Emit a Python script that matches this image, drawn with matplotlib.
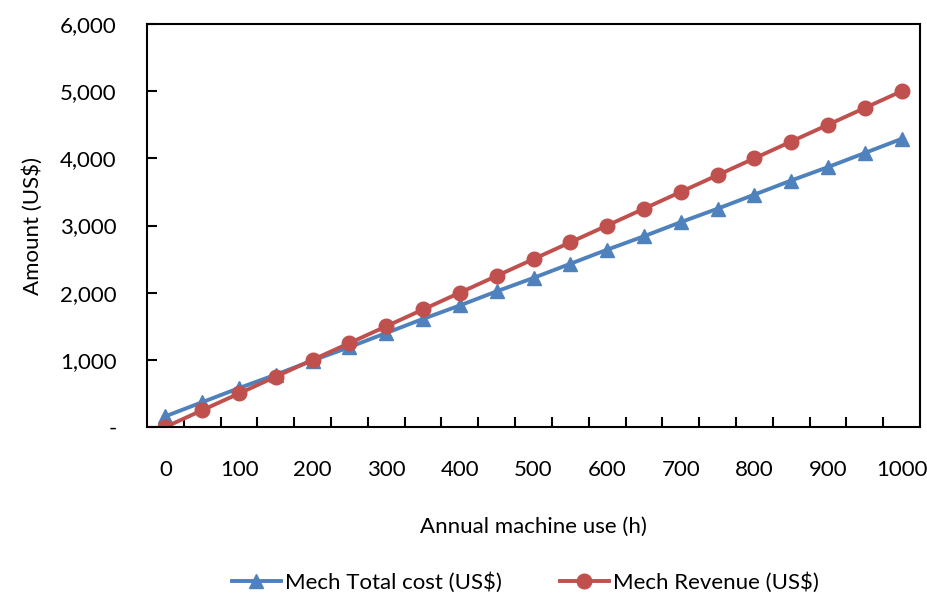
import matplotlib
matplotlib.use("Agg")
import matplotlib.pyplot as plt
from matplotlib.ticker import FuncFormatter

plt.rcParams['font.family'] = ['Lato', 'DejaVu Sans']

# Annual machine use (h), one category every 50 h
hours = [0, 50, 100, 150, 200, 250, 300, 350, 400, 450, 500,
         550, 600, 650, 700, 750, 800, 850, 900, 950, 1000]
total_cost = [160, 370, 580, 780, 990, 1190, 1400, 1610, 1810, 2020, 2220,
              2430, 2640, 2840, 3050, 3250, 3460, 3670, 3870, 4080, 4290]
revenue = [0, 250, 500, 750, 1000, 1250, 1500, 1750, 2000, 2250, 2500,
           2750, 3000, 3250, 3500, 3750, 4000, 4250, 4500, 4750, 5000]

fig = plt.figure(figsize=(9.28, 5.94), dpi=100)
ax = fig.add_axes([0.1584, 0.2811, 0.8330, 0.6785])

pos = list(range(len(hours)))
ax.plot(pos, total_cost, color='#4F81BD', lw=2.8, marker='^', ms=10.5,
        label='Mech Total cost (US$)')
ax.plot(pos, revenue, color='#C0504D', lw=2.8, marker='o', ms=10.5,
        label='Mech Revenue (US$)')

ax.set_xlim(-0.5, len(hours) - 0.5)
ax.set_ylim(0, 6000)
ax.set_yticks(range(0, 6001, 1000))
ax.yaxis.set_major_formatter(FuncFormatter(lambda v, p: '-' if v == 0 else f'{int(v):,}'))

# category axis: labels every other point, ticks between categories
ax.set_xticks(pos[::2])
ax.set_xticklabels([str(h) for h in hours[::2]])
ax.set_xticks([p - 0.5 for p in pos[1:]], minor=True)
ax.tick_params(axis='x', which='major', length=0, pad=24, labelsize=16)
ax.tick_params(axis='x', which='minor', direction='in', length=7, width=1.5)
ax.tick_params(axis='y', direction='in', length=7, width=1.5, pad=22, labelsize=16)

for s in ax.spines.values():
    s.set_linewidth(1.5)

ax.set_xlabel('Annual machine use (h)', fontsize=16, labelpad=26)
ax.set_ylabel('Amount (US$)', fontsize=16, labelpad=12)

fig.legend(*ax.get_legend_handles_labels(), loc='center', bbox_to_anchor=(0.566, 0.02),
           ncol=2, frameon=False, fontsize=16, handlelength=2.2, handletextpad=0.2,
           columnspacing=2.6, borderpad=0)

fig.savefig('out.png', dpi=100)
